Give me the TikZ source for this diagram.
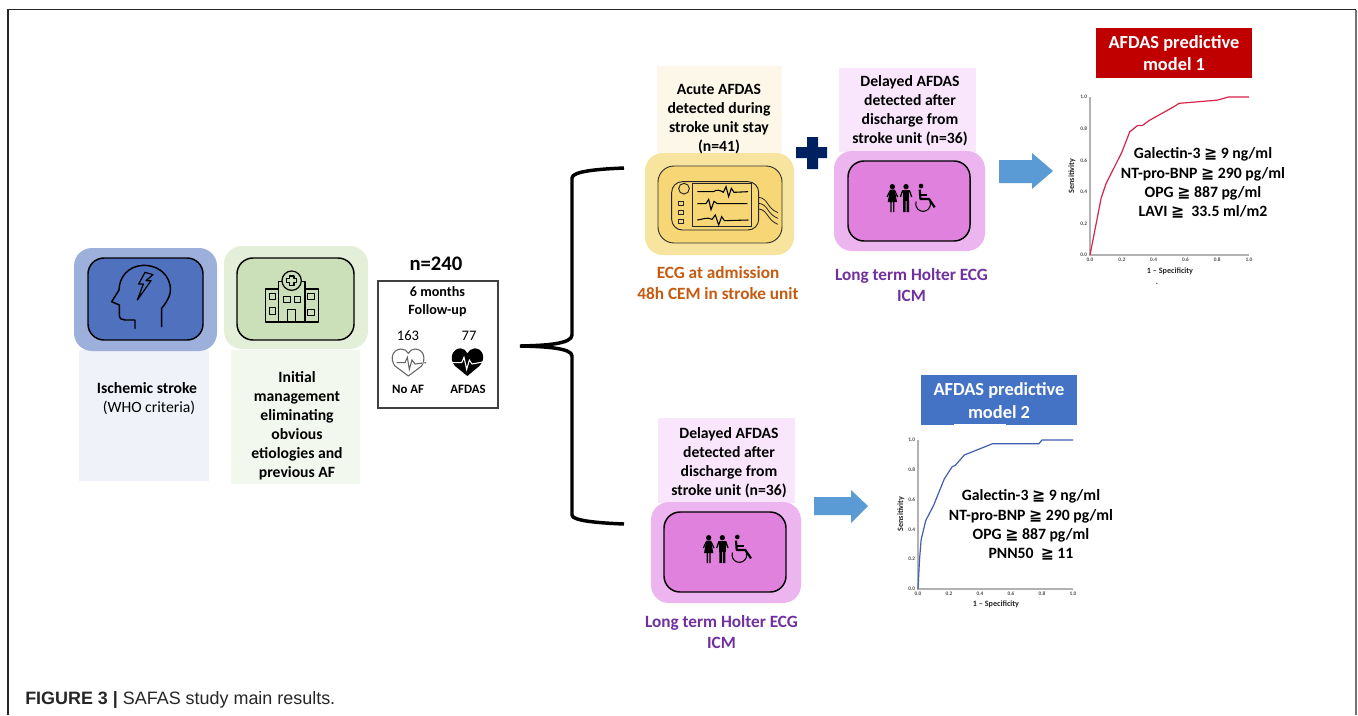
\documentclass[tikz,border=0pt]{standalone}
\usepackage{fontspec}
\setmainfont{Carlito}
\newfontfamily\capfont{Liberation Sans}
\newfontfamily\symfont{DejaVu Sans}
\newcommand{\gqq}{\mbox{\symfont\char"2267}}
\definecolor{bluO}{HTML}{9DB0DC}\definecolor{bluI}{HTML}{4F71BE}\definecolor{bluL}{HTML}{EFF2F9}
\definecolor{grnO}{HTML}{E3EFD9}\definecolor{grnI}{HTML}{CBDFB8}\definecolor{grnL}{HTML}{F3F8EE}
\definecolor{yelO}{HTML}{F7E49E}\definecolor{yelI}{HTML}{F6D675}\definecolor{yelL}{HTML}{FDF7E9}
\definecolor{pnkO}{HTML}{EDB5F0}\definecolor{pnkI}{HTML}{E081DD}\definecolor{pnkL}{HTML}{FAE6FC}
\definecolor{modR}{HTML}{C00000}\definecolor{modB}{HTML}{4472C4}\definecolor{arrB}{HTML}{5B9BD5}
\definecolor{orangeT}{HTML}{C55A11}\definecolor{purpleT}{HTML}{7030A0}\definecolor{navyP}{HTML}{002060}
\definecolor{curveR}{HTML}{D8234A}\definecolor{curveB}{HTML}{3F5FB0}
\tikzset{
  txt/.style={align=center,inner sep=0pt,font=\fontsize{11.75}{14.25}\selectfont\bfseries,text=black},
  colt/.style={txt,font=\fontsize{12.9}{15.75}\selectfont\bfseries},
  modt/.style={txt,text=white,font=\fontsize{13.8}{17}\selectfont\bfseries},
  tick/.style={inner sep=0pt,text=black!70,font=\fontsize{4}{4.5}\selectfont\bfseries},
  axl/.style={inner sep=0pt,text=black!85,font=\fontsize{6.1}{7}\selectfont\bfseries},
  valt/.style={txt,font=\fontsize{11.8}{14.4}\selectfont\bfseries},
  outerbox/.style={rounded corners=13.5pt},
  innerbox/.style={draw=black,line width=1.1pt,rounded corners=12pt},
  icon/.style={draw=black,line width=.9pt,line join=round},
  blockarrow/.style={fill=arrB,draw=none},
  people/.pic={
    \fill (-55,-34) circle (8);
    \fill (-62,-25) -- (-48,-25) -- (-41,12) -- (-69,12) -- cycle;
    \draw[line width=.9pt] (-62,-22) -- (-71,-3) (-48,-22) -- (-39,-3);
    \fill (-61,12) rectangle (-57,42) (-53,12) rectangle (-49,42);
    \fill (-14,-34) circle (8);
    \fill (-24,-25) rectangle (-4,8);
    \draw[line width=1pt] (-24,-23) -- (-31,-3) (-4,-23) -- (3,-3);
    \fill (-23,8) rectangle (-15.5,42) (-12.5,8) rectangle (-5,42);
    \fill (31,-36) circle (7);
    \draw[line width=1.6pt,line join=round] (27,-25) -- (29,3) -- (55,3) -- (72,28);
    \draw[line width=1.2pt] (29,-9) -- (50,-9);
    \draw[line width=.8pt] (16.5,10.5) arc (200:-20:22);
  }
}
\newcommand{\rocaxes}{%
  \draw[black!30,line width=.8pt] (0,1) -- (0,0) -- (1,0);
  \foreach \v/\l in {0/0.0,.2/0.2,.4/0.4,.6/0.6,.8/0.8,1/1.0}{
    \node[tick,anchor=east] at ([xshift=-2pt]0,\v) {\l};
    \node[tick,anchor=north] at ([yshift=-2pt]\v,0) {\l};
  }}
\begin{document}
\begin{tikzpicture}[x=.75pt,y=-.75pt]
\useasboundingbox (0,0) rectangle (1358,715);
\fill[white] (0,0) rectangle (1358,715);
% frame
\draw[black!85,line width=1pt] (8,715) -- (8,9.5) -- (1356,9.5);
\draw[black!55,line width=1.4pt] (1356,9.5) -- (1356,715);

% stroke box
\fill[bluL] (79,350) rectangle (209,481);
\fill[bluO,outerbox] (74,248) rectangle (217,351);
\draw[innerbox,fill=bluI] (88,258) rectangle (203,340);
\node[txt] (strokeA) at (147,388.5) {Ischemic stroke};
\node[txt,font=\fontsize{11.75}{14.25}\selectfont] (strokeB) at (149,408) {(WHO criteria)};
\begin{scope}[shift={(60,240)},x=.25pt,y=-.25pt]
\draw[line width=1.1pt,line join=round,line cap=round] (305,260) -- (305,205) .. controls (325,180) and (335,160) .. (330,135) .. controls (322,95) and (285,75) .. (250,76) .. controls (205,78) and (178,110) .. (177,150) -- (155,185) -- (178,195) -- (178,225) .. controls (178,236) and (186,240) .. (195,240) -- (225,240) -- (225,265);
\draw[line width=.9pt,line join=round] (255,97) -- (236,132) -- (250,132) -- (232,180) -- (273,122) -- (258,122) -- (279,104) -- cycle;
\end{scope}

% hospital box
\fill[grnL] (231,350) rectangle (360,484);
\fill[grnO,outerbox] (224,246) rectangle (368,349);
\draw[innerbox,fill=grnI] (237,258) rectangle (354,340);
\node[txt] (mgmt) at (297,425.5) {Initial\\management\\eliminating\\obvious\\etiologies and\\previous AF};
\begin{scope}[shift={(60,240)},x=.25pt,y=-.25pt]
\draw[icon] (655,147) rectangle (616,246);
\draw[icon] (735,147) rectangle (775,246);
\draw[icon] (655,125) rectangle (735,246);
\draw[icon,fill=grnI] (695,122) circle (29);
\draw[icon] (688,108) -- (702,108) -- (702,116) -- (710,116) -- (710,128) -- (702,128) -- (702,136) -- (688,136) -- (688,128) -- (680,128) -- (680,116) -- (688,116) -- cycle;
\draw[icon,line width=.7pt] (628,160) rectangle (647,178) (628,203) rectangle (647,222) (743,160) rectangle (762,178) (743,207) rectangle (762,226);
\draw[icon,line width=.7pt] (671,168) rectangle (690,187) (702,168) rectangle (722,187);
\draw[icon,line width=.7pt] (682,246) -- (682,208) -- (707,208) -- (707,246);
\end{scope}

% n=240 box
\node[txt,font=\fontsize{15.5}{18}\selectfont\bfseries] (ntot) at (436,264) {n=240};
\draw[black!75,line width=.8pt] (378,281) rectangle (498,408);
\node[txt,font=\fontsize{10.6}{13.5}\selectfont\bfseries] (fu) at (437.5,302) {6 months\\Follow-up};
\node[txt,font=\fontsize{10.9}{13}\selectfont] (n163) at (408,335.5) {163};
\node[txt,font=\fontsize{10.9}{13}\selectfont] (n77) at (469,336) {77};
\node[txt,font=\fontsize{9.6}{11}\selectfont\bfseries] (noaf) at (408,389) {No AF};
\node[txt,font=\fontsize{9.6}{11}\selectfont\bfseries] (afdas) at (468,389) {AFDAS};
\begin{scope}[shift={(60,240)},x=.25pt,y=-.25pt]
\draw[black!60,line width=.8pt,line join=round] (1085,378) .. controls (1098,355) and (1092,328) .. (1065,327) .. controls (1055,327) and (1050,332) .. (1045,340) .. controls (1040,332) and (1032,326) .. (1022,327) .. controls (995,330) and (990,358) .. (1005,378) -- (1045,408) -- cycle;
\fill[white] (1003,366) rectangle (1100,372);
\draw[black!60,line width=.8pt] (1010,368) -- (1035,368) -- (1042,352) -- (1048,388) -- (1056,360) -- (1065,372) -- (1098,368);
\fill[black] (1222,408) -- (1185,378) .. controls (1165,355) and (1178,325) .. (1202,325) .. controls (1212,325) and (1218,332) .. (1222,340) .. controls (1226,332) and (1234,325) .. (1244,325) .. controls (1268,325) and (1280,355) .. (1258,378) -- cycle;
\draw[white,line width=.8pt] (1176,368) -- (1205,368) -- (1212,352) -- (1220,388) -- (1228,360) -- (1236,372) -- (1268,366);
\end{scope}

% brace
\draw[black,line width=2.6pt,line cap=butt] (624,168) .. controls (600,169) and (572,171) .. (572,178) -- (572,335) .. controls (572,344) and (545,345.5) .. (520,346) .. controls (545,346.5) and (572,348) .. (572,356) -- (572,515) .. controls (572,521) and (600,523) .. (624,524);

% acute
\fill[yelL] (657,66) rectangle (782,153);
\fill[yelO,outerbox] (645,153) rectangle (794,255);
\draw[innerbox,draw=black!80,line width=.7pt,fill=yelI] (658,166) rectangle (782,243);
\node[txt] (acute) at (719,119) {Acute AFDAS\\detected during\\stroke unit stay\\(n=41)};
\node[colt,text=orangeT] (ecg) at (718,283) {ECG at admission\\48h CEM in stroke unit};
\begin{scope}[shift={(640,60)},x=.25pt,y=-.25pt]
\draw[black!85,line width=.7pt,rounded corners=8pt] (95,365) rectangle (356,510);
\draw[black!85,line width=.7pt] (158,370) rectangle (335,499);
\draw[black!85,line width=.7pt] (132,386) circle (16);
\draw[black!85,line width=.5pt] (116,425) rectangle (130,437) (116,451) rectangle (130,463) (116,478) rectangle (130,490);
\draw[black,line width=.8pt] (172,395) -- (220,395) .. controls (230,388) and (240,390) .. (250,397) -- (258,380) -- (266,410) -- (274,385) -- (282,397) -- (324,395);
\draw[black,line width=.8pt] (172,431) -- (198,431) -- (206,418) -- (213,449) -- (222,424) -- (232,431) -- (322,431);
\draw[black,line width=.8pt] (172,480) .. controls (190,478) and (200,470) .. (216,478) -- (226,465) -- (236,495) -- (245,470) -- (253,482) -- (325,480);
\draw[black!85,line width=.6pt] (356,412) .. controls (385,415) and (380,445) .. (414,458);
\draw[black!85,line width=.6pt] (356,430) .. controls (385,433) and (380,462) .. (414,475);
\draw[black!85,line width=.6pt] (356,447) .. controls (385,450) and (380,480) .. (414,493);
\end{scope}

% plus
\fill[navyP] (807,137) rectangle (818,169) (796,147) rectangle (827,158);

% delayed top
\fill[pnkL] (839,68) rectangle (976,152);
\fill[pnkO,outerbox] (834,151) rectangle (985,251);
\draw[innerbox,fill=pnkI] (848,161) rectangle (970,241);
\node[txt] (delA) at (910,111) {Delayed AFDAS\\detected after\\discharge from\\stroke unit (n=36)};
\node[colt,text=purpleT] (ltA) at (911.5,285.5) {Long term Holter ECG\\ICM};
\begin{scope}[shift={(910.7,198)},x=.25pt,y=-.25pt]\pic {people};\end{scope}

% arrow 1
\fill[blockarrow] (999,160) -- (1032,160) -- (1032,153) -- (1053,171) -- (1032,189) -- (1032,183) -- (999,183) -- cycle;

% model 1
\fill[modR] (1096,28) rectangle (1252,78);
\node[modt] (m1) at (1174,53) {AFDAS predictive\\model 1};
\begin{scope}[shift={(1090,255)},x=119.25pt,y=118.5pt]
\rocaxes
\draw[curveR,line width=.9pt,line join=round] (0,0) -- (.07,.36) -- (.1,.45) -- (.2,.65) -- (.25,.78) -- (.3,.82) -- (.33,.82) -- (.37,.85) -- (.53,.94) -- (.56,.96) -- (.8,.98) -- (.87,1) -- (1,1);
\end{scope}
\node[axl,rotate=90] (s1) at (1072,176) {Sensitivity};
\node[axl] (sp1) at (1170,271) {1 -- Specificity};
\node[axl] (dot1) at (1157,284) {.};
\node[valt] (v1) at (1203,183) {Galectin-3 \gqq\ 9 ng/ml\\NT-pro-BNP \gqq\ 290 pg/ml\\OPG \gqq\ 887 pg/ml\\LAVI \gqq\ \ 33.5 ml/m2};

% delayed bottom
\fill[pnkL] (658,418) rectangle (795,503);
\fill[pnkO,outerbox] (651,502) rectangle (801,603);
\draw[innerbox,fill=pnkI] (664,512) rectangle (786,592);
\node[txt] (delB) at (729,463) {Delayed AFDAS\\detected after\\discharge from\\stroke unit (n=36)};
\node[colt,text=purpleT] (ltB) at (721.5,632) {Long term Holter ECG\\ICM};
\begin{scope}[shift={(727,549)},x=.25pt,y=-.25pt]\pic {people};\end{scope}

% arrow 2
\fill[blockarrow] (814,497) -- (851,497) -- (851,490) -- (868,506) -- (851,523) -- (851,515) -- (814,515) -- cycle;

% model 2
\fill[modB] (921,375) rectangle (1077,425);
\draw[white,line width=.5pt] (954,424.5) -- (1006,424.5);
\node[modt] (m2) at (999,400.5) {AFDAS predictive\\model 2};
\begin{scope}[shift={(918,589)},x=116.25pt,y=111.75pt]
\rocaxes
\draw[curveB,line width=.9pt,line join=round] (0,0) -- (.01,.2) -- (.02,.33) -- (.05,.46) -- (.1,.56) -- (.17,.74) -- (.22,.82) -- (.24,.83) -- (.3,.9) -- (.48,.975) -- (.78,.975) -- (.8,1) -- (1,1);
\end{scope}
\node[axl,rotate=90] (s2) at (901,514) {Sensitivity};
\node[axl] (sp2) at (996,604) {1 -- Specificity};
\node[valt] (v2) at (1031,525) {Galectin-3 \gqq\ 9 ng/ml\\NT-pro-BNP \gqq\ 290 pg/ml\\OPG \gqq\ 887 pg/ml\\PNN50 \ \gqq\ 11};

% caption
\node[anchor=west,inner sep=0pt,text=black!85,font=\capfont\fontsize{13.45}{15}\selectfont] (cap) at (25,699.5) {\textbf{FIGURE 3 |} SAFAS study main results.};
\end{tikzpicture}
\end{document}
